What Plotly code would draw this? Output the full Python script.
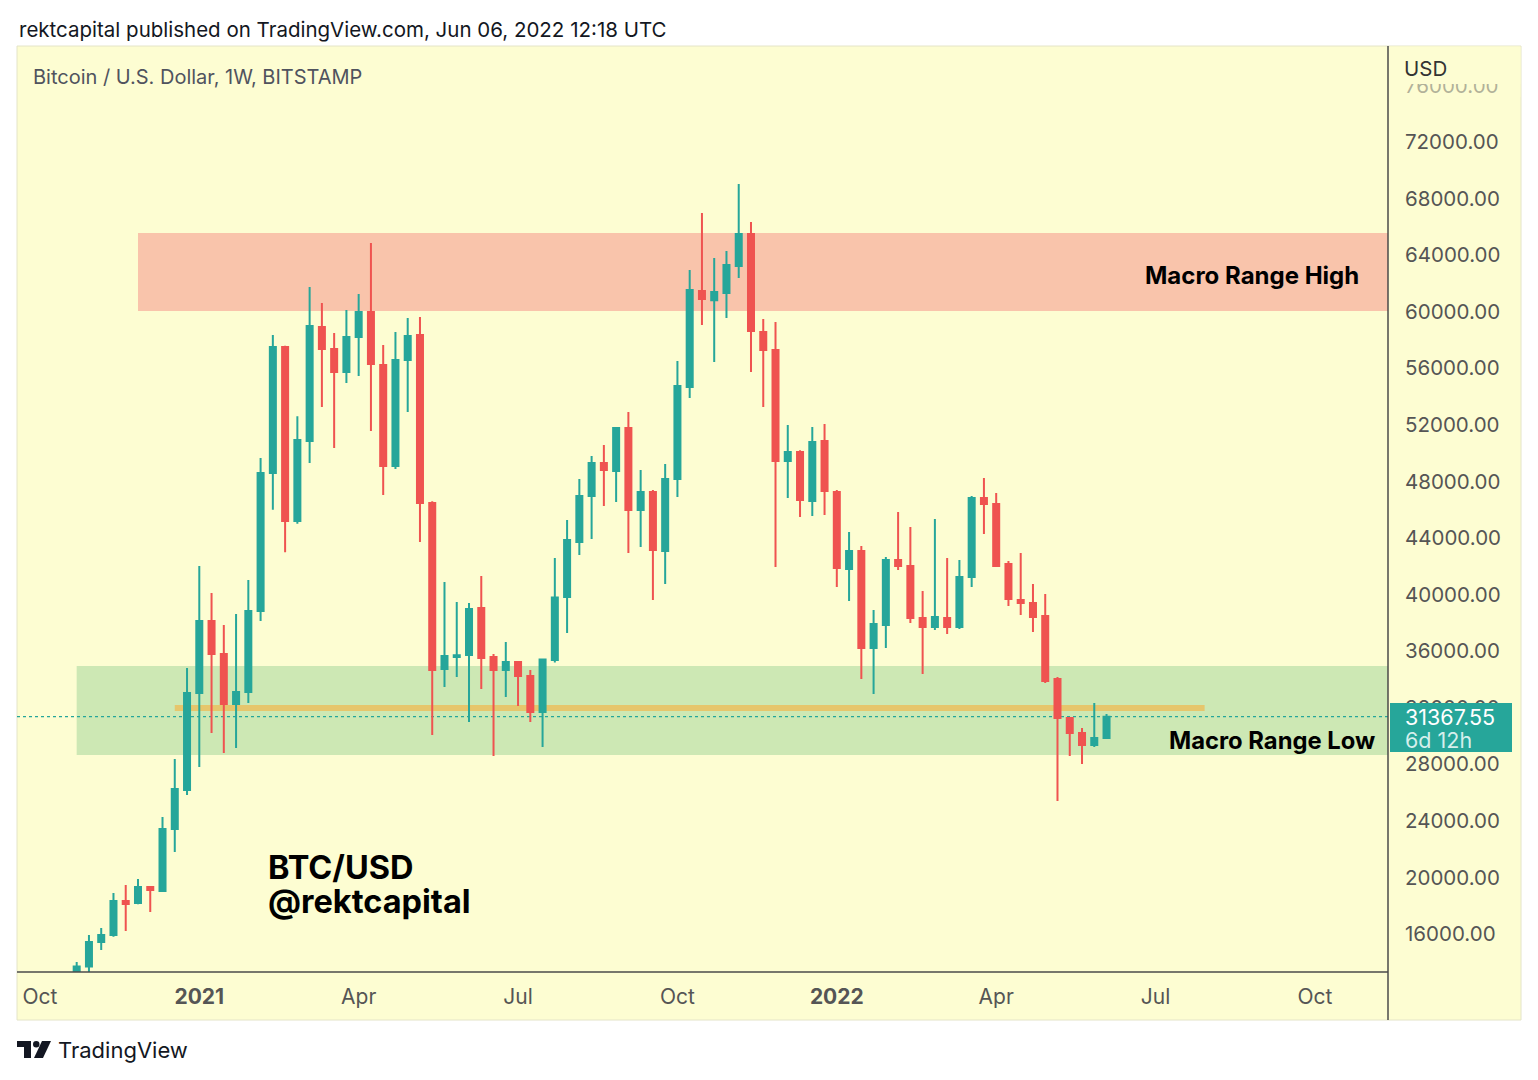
import plotly.graph_objects as go
import pandas as pd

# ---------------- data (weekly BTC/USD, Bitstamp) ----------------
first_week = "2020-10-26"
n_weeks = 85
dates = pd.date_range(first_week, periods=n_weeks, freq="7D")

opens = [13030, 13700, 15430, 15930, 18330, 18190, 19320, 19040, 23420, 26180,
         33040, 38130, 35800, 32260, 33110, 38840, 48600, 57500, 45200, 50860,
         58920, 57360, 55740, 58210, 59980, 56230, 49090, 56590, 58350, 46470,
         34730, 35580, 35720, 39050, 35580, 34660, 35230, 34240, 31700, 35370,
         39830, 43720, 46970, 49300, 48740, 51780, 45980, 47250, 43080, 48170,
         54680, 61460, 60820, 61320, 63230, 65490, 58570, 57290, 49440, 50080,
         46620, 50860, 47250, 41810, 43080, 36220, 37850, 42440, 42020, 38340,
         37700, 38340, 37700, 41240, 46830, 46400, 42160, 39610, 39400, 38480,
         34030, 31270, 30210, 29360, 29860]
highs = [14020, 15930, 16420, 18900, 19460, 19890, 19380, 24270, 28370, 34810,
         42020, 40110, 37850, 38620, 41030, 49650, 58350, 57600, 52600, 61750,
         60620, 58500, 60120, 61250, 64860, 57650, 58570, 59560, 59630, 46600,
         40890, 39470, 39400, 41310, 35800, 36640, 35300, 34660, 35440, 42580,
         45280, 48170, 49800, 50580, 51850, 52910, 48810, 47400, 49230, 56510,
         62950, 66980, 63800, 64290, 69030, 66340, 59480, 59270, 51990, 50200,
         51850, 52060, 47400, 44420, 43430, 38910, 42650, 45840, 44780, 40250,
         45340, 42580, 42440, 46970, 48240, 47180, 42370, 42940, 40750, 40040,
         34170, 31300, 30560, 32330, 31550]
lows = [12950, 13240, 14870, 15800, 16210, 18100, 17550, 19000, 21800, 25820,
        27810, 30210, 28800, 29150, 32330, 38130, 46000, 43000, 45000, 49300,
        53260, 50360, 54960, 55450, 51560, 47040, 48880, 52910, 43710, 30070,
        33460, 34170, 30990, 33320, 28580, 32760, 32120, 30990, 29220, 35200,
        37280, 42800, 43930, 46260, 46540, 42940, 43360, 39610, 40750, 46900,
        53900, 59060, 56440, 59550, 62380, 55740, 53260, 41950, 46830, 45490,
        45560, 45620, 40530, 39540, 34030, 32970, 36220, 41740, 37990, 34380,
        37490, 37210, 37560, 40530, 44280, 41950, 39190, 38550, 37350, 33740,
        25400, 28580, 28020, 29220, 29860]
closes = [13700, 15430, 15930, 18330, 18120, 19320, 19110, 23420, 26250, 33040,
          38130, 35800, 32260, 33110, 38840, 48600, 57500, 45200, 50930, 58990,
          57360, 55740, 58210, 59980, 56300, 49090, 56590, 58280, 46470, 34660,
          35650, 35700, 38980, 35510, 34660, 35230, 34240, 31700, 35400, 39800,
          43860, 46970, 49300, 48810, 51780, 45980, 47250, 43150, 48170, 54750,
          61540, 60900, 61390, 63300, 65490, 58640, 57290, 49440, 50080, 46690,
          50790, 47320, 41880, 43080, 36220, 37920, 42440, 42020, 38340, 37700,
          38410, 37700, 41240, 46830, 46400, 42020, 39680, 39400, 38410, 33890,
          31270, 30210, 29360, 29860, 31367.55]

range_high_zone = (60050, 65560)
range_high_start = "2020-11-30"
range_low_zone = (28660, 34950)
range_low_start = "2020-10-26"
level_price = 31980
level_start, level_end = "2020-12-21", "2022-08-01"
last_price = 31367.55
last_label = "31367.55"
countdown = "6d 12h"

y_ticks = [16000, 20000, 24000, 28000, 32000, 36000, 40000, 44000, 48000,
           52000, 56000, 60000, 64000, 68000, 72000, 76000]
x_tick_dates = ["2020-10-05", "2021-01-04", "2021-04-05", "2021-07-05", "2021-10-04",
                "2022-01-03", "2022-04-04", "2022-07-04", "2022-10-03"]
x_tick_text = ["Oct", "<b>2021</b>", "Apr", "Jul", "Oct", "<b>2022</b>", "Apr", "Jul", "Oct"]

title_text = "rektcapital published on TradingView.com, Jun 06, 2022 12:18 UTC"
symbol_text = "Bitcoin / U.S. Dollar, 1W, BITSTAMP"

# ---------------- layout helpers ----------------
# reference page pixels; the HTML body adds an 8px margin, so the figure is
# shifted/shrunk by that amount to land on the same page pixels.
PAGE_W, PAGE_H = 1538, 1080
BODY = 8
W, H = PAGE_W - BODY, PAGE_H - BODY
L, R, T, B = 17, 1388, 46, 972
x_range = ["2020-09-21 22:00", "2022-11-13 17:00"]
y_range = [13310, 78790]

def px(x):
    return (x - L) / (R - L)

def py(y):
    return (B - y) / (B - T)

BG = "#FDFDD2"
UP = "#26A69A"
DOWN = "#EF5350"
FONT = "Inter"
AXIS_TXT = "#555555"

fig = go.Figure()
fig.add_trace(go.Candlestick(
    x=dates, open=opens, high=highs, low=lows, close=closes,
    increasing=dict(line=dict(color=UP, width=2), fillcolor=UP),
    decreasing=dict(line=dict(color=DOWN, width=2), fillcolor=DOWN),
    whiskerwidth=0, showlegend=False, hoverinfo="skip",
))

shapes = []
# panel background
shapes.append(dict(type="rect", xref="paper", yref="paper", x0=px(17), x1=px(1521),
                   y0=py(1020), y1=py(46), fillcolor=BG,
                   line=dict(color="#E4E4C8", width=1), layer="below"))
# zones
shapes.append(dict(type="rect", xref="x", yref="y", x0=range_high_start, x1=x_range[1],
                   y0=range_high_zone[0], y1=range_high_zone[1],
                   fillcolor="#F9C4AB", line=dict(width=0), layer="below"))
shapes.append(dict(type="rect", xref="x", yref="y", x0=range_low_start, x1=x_range[1],
                   y0=range_low_zone[0], y1=range_low_zone[1],
                   fillcolor="#CDE8B4", line=dict(width=0), layer="below"))
shapes.append(dict(type="line", xref="x", yref="y", x0=level_start, x1=level_end,
                   y0=level_price, y1=level_price,
                   line=dict(color="#E6C66C", width=6), layer="below"))
shapes.append(dict(type="line", xref="x", yref="y", x0=x_range[0], x1=x_range[1],
                   y0=last_price, y1=last_price,
                   line=dict(color=UP, width=1.3, dash="dot"), layer="below"))
# axis lines
shapes.append(dict(type="line", xref="paper", yref="paper", x0=px(1388), x1=px(1388),
                   y0=py(1020), y1=py(46), line=dict(color="#4A4A4A", width=1.5), layer="above"))
shapes.append(dict(type="line", xref="paper", yref="paper", x0=px(17), x1=px(1388),
                   y0=py(972), y1=py(972), line=dict(color="#4A4A4A", width=1.5), layer="above"))
# cover for the top (partially hidden) price label
shapes.append(dict(type="rect", xref="paper", yref="paper", x0=px(1389.5), x1=px(1520.5),
                   y0=py(84), y1=py(46.5), fillcolor=BG, line=dict(width=0), layer="above"))
shapes.append(dict(type="rect", xref="paper", yref="paper", x0=px(1389.5), x1=px(1520.5),
                   y0=py(97), y1=py(84), fillcolor=BG, opacity=0.55, line=dict(width=0), layer="above"))
# last price box
shapes.append(dict(type="rect", xref="paper", yref="paper", x0=px(1390), x1=px(1512),
                   y0=py(752), y1=py(703), fillcolor=UP, line=dict(width=0), layer="above"))
# TradingView logo
def path(points):
    return "M " + " L ".join(f"{px(a):.5f},{py(b):.5f}" for a, b in points) + " Z"

shapes.append(dict(type="path", xref="paper", yref="paper",
                   path=path([(17, 1041), (31, 1041), (31, 1058), (24, 1058), (24, 1047), (17, 1047)]),
                   fillcolor="#131722", line=dict(width=0), layer="above"))
shapes.append(dict(type="circle", xref="paper", yref="paper",
                   x0=px(33), x1=px(39.5), y0=py(1047.5), y1=py(1041),
                   fillcolor="#131722", line=dict(width=0), layer="above"))
shapes.append(dict(type="path", xref="paper", yref="paper",
                   path=path([(42, 1041), (51, 1041), (43, 1058), (34, 1058)]),
                   fillcolor="#131722", line=dict(width=0), layer="above"))

annotations = []
def text(x, y, s, size, color, bold=False, xanchor="left"):
    annotations.append(dict(
        xref="paper", yref="paper", x=px(x), y=py(y), text=f"<b>{s}</b>" if bold else s,
        showarrow=False, xanchor=xanchor, yanchor="middle",
        font=dict(family=FONT, size=size, color=color)))

text(17, 30, title_text, 20.5, "#131722")
text(31, 77, symbol_text, 20, "#50535E")
text(1402, 68, "USD", 20.5, "#333333")
text(1361, 275, "Macro Range High", 24, "#000000", bold=True, xanchor="right")
text(1377, 740, "Macro Range Low", 23.8, "#000000", bold=True, xanchor="right")
text(266, 867, "BTC/USD", 32.5, "#000000", bold=True)
text(266, 901, "@rektcapital", 32.5, "#000000", bold=True)
text(1403, 717, last_label, 21.5, "#FFFFFF")
text(1403, 740, countdown, 21.5, "#D5EFEC")
text(56, 1050, "TradingView", 22, "#131722")

fig.update_layout(
    width=W, height=H,
    margin=dict(l=L - BODY, r=PAGE_W - R, t=T - BODY, b=PAGE_H - B, pad=0),
    paper_bgcolor="#FFFFFF", plot_bgcolor=BG,
    showlegend=False,
    shapes=shapes, annotations=annotations,
    xaxis=dict(type="date", range=x_range, rangeslider=dict(visible=False),
               tickvals=x_tick_dates, ticktext=x_tick_text,
               showgrid=False, zeroline=False, showline=False, ticks="",
               ticklabelstandoff=10,
               tickfont=dict(family=FONT, size=21, color=AXIS_TXT)),
    yaxis=dict(range=y_range, side="right", tickvals=y_ticks,
               ticktext=[f"{v:.2f}" for v in y_ticks],
               showgrid=False, zeroline=False, showline=False, ticks="",
               ticklabelstandoff=16,
               tickfont=dict(family=FONT, size=20.5, color=AXIS_TXT)),
    hovermode=False,
)

fig.write_html("out.html", config={"displayModeBar": False})
